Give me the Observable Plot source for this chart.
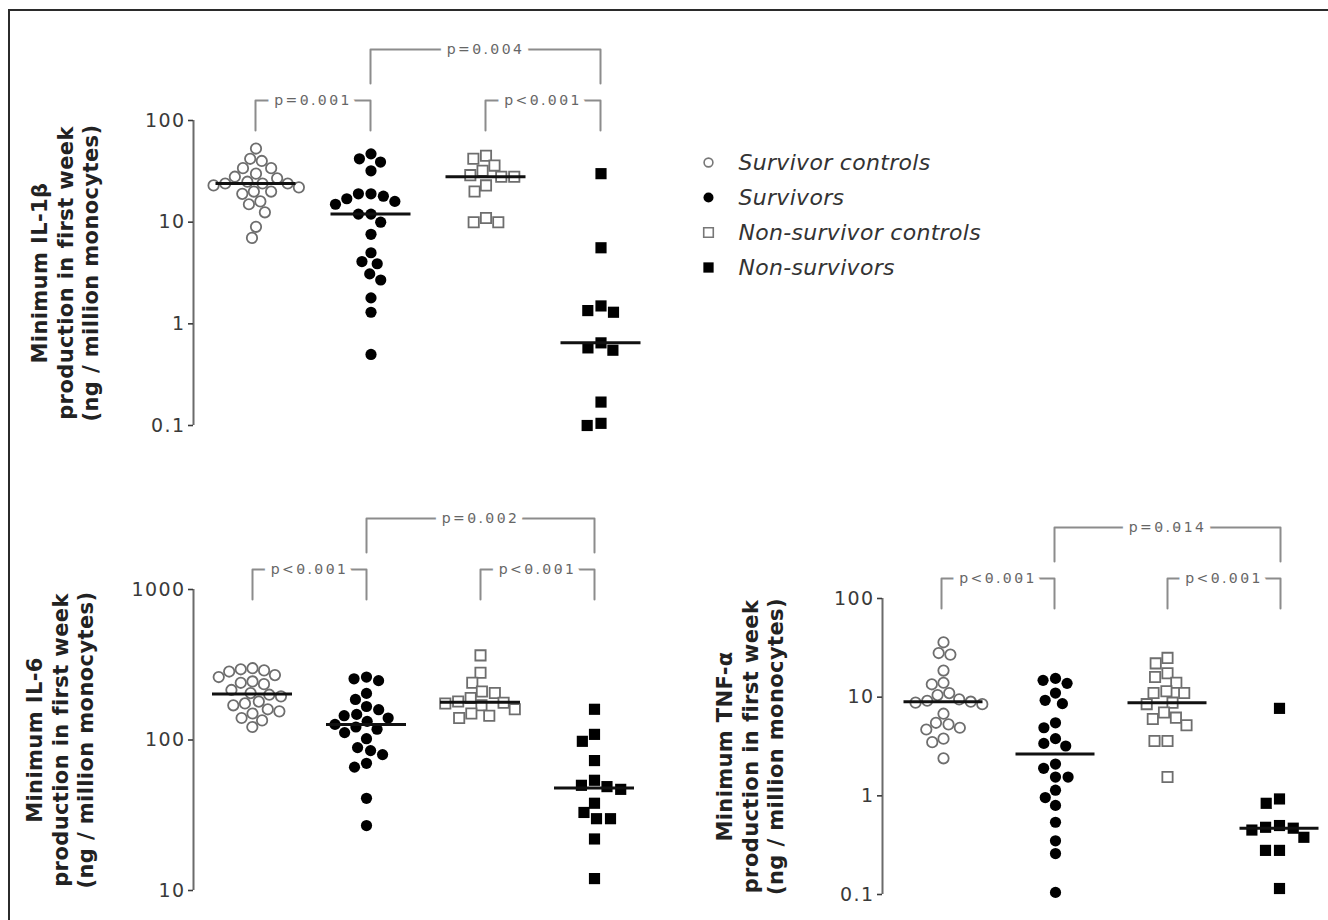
<!DOCTYPE html>
<html>
<head>
<meta charset="utf-8">
<script src="https://cdn.jsdelivr.net/npm/d3@7"></script>
<script src="https://cdn.jsdelivr.net/npm/@observablehq/plot@0.6"></script>
<style>
html, body { margin: 0; padding: 0; background: #fff; }
#page { position: relative; width: 1328px; height: 920px; overflow: hidden; background: #fff; font-family: "DejaVu Sans", sans-serif; }
#border { position: absolute; left: 8px; top: 9px; right: -10px; bottom: -10px; border-top: 2px solid #2b2b2b; border-left: 2px solid #2b2b2b; }
#page svg { position: absolute; left: 0; top: 0; }
#page g[font-size="14"] text { letter-spacing: 2.4px; }
#page g[font-weight="bold"] text { letter-spacing: 0.4px; }
#page g[font-style="italic"] text { letter-spacing: 0.3px; }
#page g[font-size="19"] text { letter-spacing: 1.4px; }
</style>
</head>
<body>
<div id="page"><div id="border"></div></div>
<script>
// ---------- data ----------
const groups = ["Survivor controls", "Survivors", "Non-survivor controls", "Non-survivors"];

// IL-1β (ng / million monocytes)
const il1bSurvivorControls = [53, 42, 40, 34, 34, 30, 28, 27, 25, 24, 24, 24, 23, 22, 20, 20, 19, 16, 15, 12.5, 9, 7];
const il1bSurvivors = [47, 42, 39, 32, 19, 19, 18, 17, 16, 15, 12, 12, 10, 7.6, 5, 4.1, 3.9, 3.1, 2.7, 1.8, 1.3, 0.5];
const il1bNonSurvivorControls = [45, 42, 36, 32, 29, 28, 28, 23, 20, 11, 10, 10];
const il1bNonSurvivors = [30, 5.6, 1.5, 1.35, 1.3, 0.65, 0.58, 0.55, 0.17, 0.105, 0.1];
const il1bTicks = [0.1, 1, 10, 100];
const il1bLabel = "Minimum IL-1β\nproduction in first week\n(ng / million monocytes)";
const il1bBrackets = [
  {from: "Survivor controls", to: "Survivors", label: "p=0.001", level: 0},
  {from: "Non-survivor controls", to: "Non-survivors", label: "p<0.001", level: 0},
  {from: "Survivors", to: "Non-survivors", label: "p=0.004", level: 1}
];

// IL-6
const il6SurvivorControls = [300, 295, 290, 285, 270, 262, 245, 240, 235, 215, 205, 200, 195, 180, 175, 170, 160, 155, 150, 140, 135, 122];
const il6Survivors = [262, 255, 248, 204, 186, 167, 159, 148, 145, 140, 133, 127, 122, 118, 112, 102, 89, 85, 80, 70, 66, 41, 27];
const il6NonSurvivorControls = [365, 280, 240, 210, 205, 190, 180, 177, 175, 170, 160, 150, 145, 140];
const il6NonSurvivors = [160, 109, 98, 73, 54, 50, 49, 47, 38, 33, 30, 30, 22, 12];
const il6Ticks = [10, 100, 1000];
const il6Label = "Minimum IL-6\nproduction in first week\n(ng / million monocytes)";
const il6Brackets = [
  {from: "Survivor controls", to: "Survivors", label: "p<0.001", level: 0},
  {from: "Non-survivor controls", to: "Non-survivors", label: "p<0.001", level: 0},
  {from: "Survivors", to: "Non-survivors", label: "p=0.002", level: 1}
];

// TNF-α
const tnfSurvivorControls = [36, 28, 27, 18.6, 14, 13.5, 11, 10.5, 9.5, 9.2, 9.0, 8.8, 8.5, 6.8, 5.5, 5.3, 4.9, 4.7, 3.8, 3.5, 2.4];
const tnfSurvivors = [15.5, 14.8, 13.8, 11, 9.3, 8.6, 5.5, 4.9, 3.8, 3.4, 3.2, 2.1, 1.9, 1.55, 1.55, 1.14, 0.96, 0.8, 0.54, 0.35, 0.26, 0.105];
const tnfNonSurvivorControls = [25, 22, 17.5, 16, 14, 11.5, 11, 11, 8.8, 8.5, 7, 6.2, 6, 5.2, 3.6, 3.6, 1.55];
const tnfNonSurvivors = [7.7, 0.93, 0.84, 0.5, 0.48, 0.47, 0.45, 0.38, 0.28, 0.28, 0.115];
const tnfTicks = [0.1, 1, 10, 100];
const tnfLabel = "Minimum TNF-α\nproduction in first week\n(ng / million monocytes)";
const tnfBrackets = [
  {from: "Survivor controls", to: "Survivors", label: "p<0.001", level: 0},
  {from: "Non-survivor controls", to: "Non-survivors", label: "p<0.001", level: 0},
  {from: "Survivors", to: "Non-survivors", label: "p=0.014", level: 1}
];

// ---------- styles / layout ----------
const W = 1328, H = 920;
const FONT = "DejaVu Sans";
const markerStyles = [
  {symbol: "circle", r: 5.2, fill: "white", stroke: "#6e6e6e", strokeWidth: 1.8},
  {symbol: "circle", r: 5.6, fill: "black", stroke: "none", strokeWidth: 0},
  {symbol: "square", r: 5.8, fill: "white", stroke: "#6e6e6e", strokeWidth: 1.8},
  {symbol: "square", r: 6.3, fill: "black", stroke: "none", strokeWidth: 0}
];
const legendStyles = [
  {symbol: "circle", r: 4.4, fill: "white", stroke: "#777", strokeWidth: 1.6},
  {symbol: "circle", r: 5, fill: "black", stroke: "none", strokeWidth: 0},
  {symbol: "square", r: 5.4, fill: "white", stroke: "#777", strokeWidth: 1.6},
  {symbol: "square", r: 5.8, fill: "black", stroke: "none", strokeWidth: 0}
];
const bracketLevels = [{bar: 20, leg: -10}, {bar: 71, leg: 37}];
const svgStyle = {background: "transparent", position: "absolute", left: "0px", top: "0px", maxWidth: "none", overflow: "visible"};

const page = document.getElementById("page");
function addPlot(svg) { page.appendChild(svg); }

function drawPanel(p) {
  const n = groups.length;
  const pad = p.offset / p.step;
  const end = p.axisX + p.step * (n - 1 + 2 * pad);
  const frame = {
    width: W, height: H,
    marginLeft: p.axisX, marginRight: W - end,
    marginTop: p.top, marginBottom: H - p.bottom,
    style: svgStyle
  };
  const yScale = {type: "log", domain: p.domain, axis: null};

  // Layer A: dodged scatter (one facet per group) with median lines
  const dots = groups.map((g, i) => {
    const s = markerStyles[i];
    return Plot.dot(p.values[i], Plot.dodgeX({
      anchor: "middle", padding: 1.4,
      fx: () => g, y: d => d,
      r: s.r, symbol: s.symbol, fill: s.fill, stroke: s.stroke, strokeWidth: s.strokeWidth
    }));
  });
  const medians = groups.map((g, i) => ({group: g, median: d3.median(p.values[i])}));
  const inset = (p.step - 80) / 2;
  addPlot(Plot.plot({
    ...frame,
    fx: {domain: groups, paddingInner: 0, paddingOuter: pad - 0.5, axis: null, label: null},
    y: yScale,
    marks: [
      ...dots,
      Plot.ruleY(medians, {fx: "group", y: "median", insetLeft: inset, insetRight: inset, stroke: "#111", strokeWidth: 3})
    ]
  }));

  // Layer B: axis, brackets, axis title
  const pxPerDecade = (p.bottom - p.top) / Math.log10(p.domain[1] / p.domain[0]);
  const yAbove = px => p.domain[1] * Math.pow(10, px / pxPerDecade);
  const pts = p.brackets.flatMap((b, k) => {
    const i = groups.indexOf(b.from), j = groups.indexOf(b.to);
    const lv = bracketLevels[b.level];
    return [
      {k, x: i, y: yAbove(lv.leg)}, {k, x: i, y: yAbove(lv.bar)},
      {k, x: j, y: yAbove(lv.bar)}, {k, x: j, y: yAbove(lv.leg)}
    ];
  });
  addPlot(Plot.plot({
    ...frame,
    x: {domain: [-pad, n - 1 + pad], axis: null},
    y: yScale,
    marks: [
      Plot.ruleX([-pad], {y1: p.domain[0], y2: p.domain[1], stroke: "#6b6b6b", strokeWidth: 2}),
      Plot.axisY(p.ticks, {tickSize: 5, tickPadding: 3, tickFormat: "~g", fontSize: 19, fontFamily: FONT, color: "#3a3a3a", strokeWidth: 1.6, label: null}),
      Plot.line(pts, {x: "x", y: "y", z: "k", stroke: "#8c8c8c", strokeWidth: 2}),
      Plot.text(p.brackets, {
        x: b => (groups.indexOf(b.from) + groups.indexOf(b.to)) / 2,
        y: b => yAbove(bracketLevels[b.level].bar),
        text: "label", fontSize: 14, fontFamily: FONT, fill: "#666",
        stroke: "white", strokeWidth: 14
      }),
      Plot.text([p.label], {
        frameAnchor: "left", rotate: -90, dx: p.labelDx, text: d => d,
        textAnchor: "middle", lineAnchor: "middle", lineHeight: 1.2,
        fontSize: 21, fontWeight: "bold", fontFamily: FONT, fill: "#222"
      })
    ]
  }));
}

drawPanel({
  values: [il1bSurvivorControls, il1bSurvivors, il1bNonSurvivorControls, il1bNonSurvivors],
  ticks: il1bTicks, domain: [0.1, 100], brackets: il1bBrackets, label: il1bLabel,
  axisX: 193, top: 120, bottom: 425, step: 115, offset: 62, labelDx: -129
});
drawPanel({
  values: [il6SurvivorControls, il6Survivors, il6NonSurvivorControls, il6NonSurvivors],
  ticks: il6Ticks, domain: [10, 1000], brackets: il6Brackets, label: il6Label,
  axisX: 193, top: 589, bottom: 890, step: 114, offset: 59, labelDx: -134
});
drawPanel({
  values: [tnfSurvivorControls, tnfSurvivors, tnfNonSurvivorControls, tnfNonSurvivors],
  ticks: tnfTicks, domain: [0.1, 100], brackets: tnfBrackets, label: tnfLabel,
  axisX: 882, top: 598, bottom: 894, step: 113, offset: 59, labelDx: -133
});

// Legend
addPlot(Plot.plot({
  width: W, height: H,
  marginLeft: 708, marginRight: W - 709, marginTop: 162, marginBottom: H - 267,
  style: svgStyle,
  x: {axis: null},
  y: {type: "point", domain: groups, padding: 0, axis: null},
  marks: [
    ...groups.map((g, i) => {
      const s = legendStyles[i];
      return Plot.dot([g], {y: d => d, frameAnchor: "left", r: s.r, symbol: s.symbol, fill: s.fill, stroke: s.stroke, strokeWidth: s.strokeWidth});
    }),
    Plot.text(groups, {y: d => d, frameAnchor: "left", dx: 30, text: d => d, textAnchor: "start",
      fontSize: 22, fontStyle: "italic", fontFamily: FONT, fill: "#333"})
  ]
}));
</script>
</body>
</html>
